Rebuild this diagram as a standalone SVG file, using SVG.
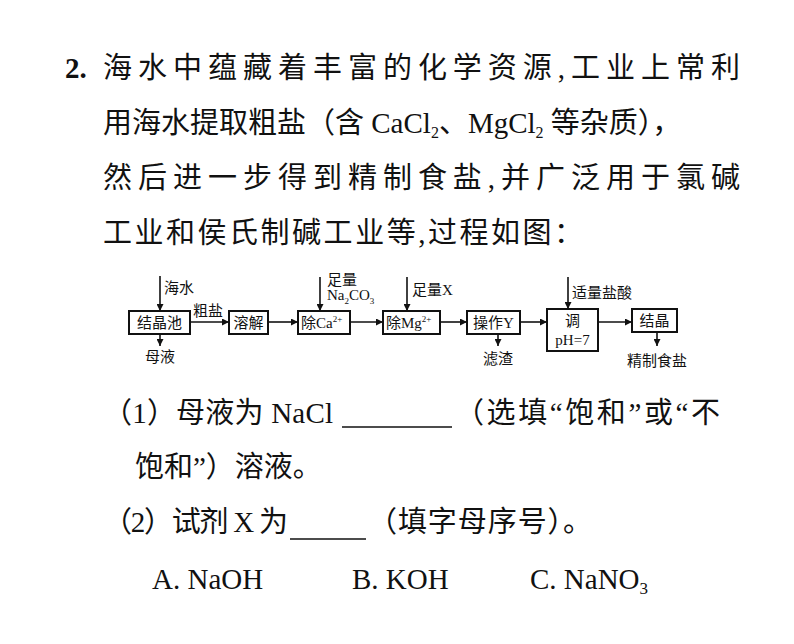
<svg xmlns="http://www.w3.org/2000/svg" width="794" height="644" viewBox="0 0 794 644">
<style>
.t{font-family:"Liberation Serif","Noto Sans CJK SC",serif;font-size:29px;fill:#111}
.d{font-family:"Liberation Serif","Noto Sans CJK SC",serif;font-size:15px;fill:#111}
.s{font-size:9px}
.b{fill:#fff;stroke:#111;stroke-width:2}
.l{stroke:#111;stroke-width:1.6;fill:none}
</style>
<defs><marker id="a" viewBox="0 0 10 10" refX="10" refY="5" markerWidth="7" markerHeight="7" markerUnits="userSpaceOnUse" orient="auto"><path d="M0,0 L10,5 L0,10 Z" fill="#111"/></marker></defs>
<rect width="794" height="644" fill="#fff"/>
<text class="t" x="65" y="78"><tspan font-weight="bold">2.</tspan></text>
<text class="t" x="103" y="78" textLength="637" lengthAdjust="spacing">海水中蕴藏着丰富的化学资源,工业上常利</text>
<text class="t" x="103" y="133">用海水提取粗盐（含 CaCl<tspan font-size="16" dy="5">2</tspan><tspan dy="-5">、MgCl</tspan><tspan font-size="16" dy="5">2</tspan><tspan dy="-5"> 等杂质），</tspan></text>
<text class="t" x="103" y="188" textLength="637" lengthAdjust="spacing">然后进一步得到精制食盐,并广泛用于氯碱</text>
<text class="t" x="103" y="243" textLength="480" lengthAdjust="spacing">工业和侯氏制碱工业等,过程如图：</text>
<g id="connectors">
<path class="l" d="M160,276 V311" marker-end="url(#a)"/>
<path class="l" d="M160,334 V346" marker-end="url(#a)"/>
<path class="l" d="M190,322 H229" marker-end="url(#a)"/>
<path class="l" d="M268,322 H298" marker-end="url(#a)"/>
<path class="l" d="M320,277 V311" marker-end="url(#a)"/>
<path class="l" d="M350,322 H383" marker-end="url(#a)"/>
<path class="l" d="M407,277 V311" marker-end="url(#a)"/>
<path class="l" d="M440,322 H467" marker-end="url(#a)"/>
<path class="l" d="M498,334 V346" marker-end="url(#a)"/>
<path class="l" d="M520,322 H547" marker-end="url(#a)"/>
<path class="l" d="M568,277 V309" marker-end="url(#a)"/>
<path class="l" d="M598,322 H632" marker-end="url(#a)"/>
<path class="l" d="M657,332 V346" marker-end="url(#a)"/>
</g>
<g id="n1"><rect class="b" x="129" y="311" width="61" height="23"/><text class="d" x="159.5" y="328" text-anchor="middle">结晶池</text></g>
<text class="d" x="164" y="293">海水</text>
<text class="d" x="193" y="316">粗盐</text>
<text class="d" x="160" y="362" text-anchor="middle">母液</text>
<g id="n2"><rect class="b" x="229" y="311" width="39" height="23"/><text class="d" x="248.5" y="328" text-anchor="middle">溶解</text></g>
<g id="n3"><rect class="b" x="298" y="311" width="52" height="23"/><text class="d" x="301" y="328">除Ca<tspan class="s" dy="-6">2+</tspan></text></g>
<text class="d" x="327" y="285">足量</text>
<text class="d" x="327" y="300">Na<tspan class="s" dy="4">2</tspan><tspan dy="-4">CO</tspan><tspan class="s" dy="4">3</tspan></text>
<g id="n4"><rect class="b" x="383" y="311" width="57" height="23"/><text class="d" x="386" y="328">除Mg<tspan class="s" dy="-6">2+</tspan></text></g>
<text class="d" x="412" y="295">足量X</text>
<g id="n5"><rect class="b" x="467" y="311" width="53" height="23"/><text class="d" x="493.5" y="328" text-anchor="middle">操作Y</text></g>
<text class="d" x="498" y="364" text-anchor="middle">滤渣</text>
<g id="n6"><rect class="b" x="547" y="309" width="51" height="42"/><text class="d" x="572.5" y="326" text-anchor="middle">调</text><text class="d" x="572.5" y="345" text-anchor="middle">pH=7</text></g>
<text class="d" x="572" y="298">适量盐酸</text>
<g id="n7"><rect class="b" x="632" y="309" width="45" height="23"/><text class="d" x="654.5" y="326" text-anchor="middle">结晶</text></g>
<text class="d" x="657" y="366" text-anchor="middle">精制食盐</text>
<text class="t" x="103" y="423" textLength="230" lengthAdjust="spacing">（1）母液为 NaCl</text>
<line x1="342" y1="427" x2="452" y2="427" stroke="#111" stroke-width="1.5"/>
<text class="t" x="455" y="423" textLength="265" lengthAdjust="spacing">（选填“饱和”或“不</text>
<text class="t" x="135" y="477">饱和”）溶液。</text>
<text class="t" x="103" y="532" textLength="185" lengthAdjust="spacing">（2）试剂 X 为</text>
<line x1="290" y1="539" x2="366" y2="539" stroke="#111" stroke-width="1.5"/>
<text class="t" x="368" y="532" textLength="224" lengthAdjust="spacing">（填字母序号）。</text>
<text class="t" x="152" y="589">A. NaOH</text>
<text class="t" x="352" y="589">B. KOH</text>
<text class="t" x="530" y="589">C. NaNO<tspan font-size="17" dy="5">3</tspan></text>
</svg>
